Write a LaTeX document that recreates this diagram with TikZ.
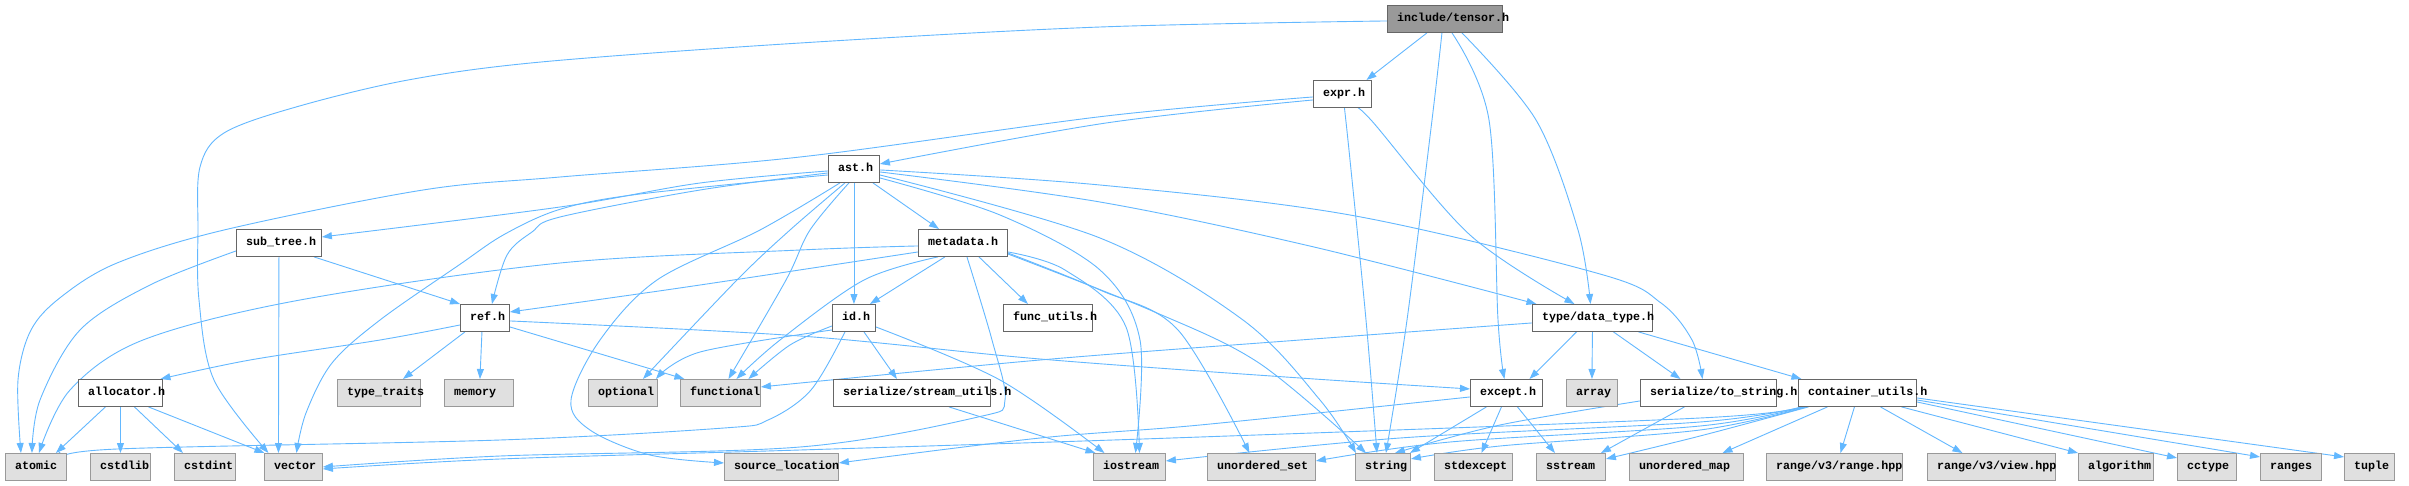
\documentclass[tikz,border=0pt]{standalone}
\usepackage{fontspec}
\setmonofont{Liberation Mono}
\usetikzlibrary{arrows.meta}
\definecolor{edgec}{HTML}{63B8FF}
\definecolor{boxd}{HTML}{666666}
\definecolor{sysfill}{HTML}{E0E0E0}
\definecolor{sysdraw}{HTML}{999999}
\definecolor{rootfill}{HTML}{999999}
\pgfdeclarelayer{bg}
\pgfsetlayers{bg,main}
\tikzset{
  filebox/.style={draw=boxd, fill=white, line width=0.9pt, inner sep=0pt, anchor=north west},
  sysbox/.style={draw=sysdraw, fill=sysfill, line width=0.9pt, inner sep=0pt, anchor=north west},
  rootbox/.style={draw=boxd, fill=rootfill, line width=0.9pt, inner sep=0pt, anchor=north west},
  lbl/.style={font=\ttfamily\bfseries\fontsize{11.67}{12}\selectfont, inner sep=0pt, anchor=mid west},
  edge/.style={draw=edgec, line width=0.9pt, -{Triangle[length=10pt,width=7pt]}},
  sm/.style={smooth, tension=0.55}
}
\newcommand\fnode[7]{%
  \node[#7, minimum width={(#4-#2)*1pt}, minimum height={(#5-#3)*1pt}] (#1) at (#2,#3) {};
  \node[lbl] (#1t) at ([xshift=10pt]#1.west) {#6};}
\begin{document}
\begin{tikzpicture}[x=1pt,y=-1pt]
\useasboundingbox (0,0) rectangle (2409,485);
% row 0-2
\fnode{T}{1387}{5}{1502}{32}{include/tensor.h}{rootbox}
\fnode{E}{1313}{80}{1371}{107}{expr.h}{filebox}
\fnode{A}{828}{155}{879}{182}{ast.h}{filebox}
% row 3
\fnode{ST}{236}{229}{321}{256}{sub\_tree.h}{filebox}
\fnode{M}{918}{229}{1007}{256}{metadata.h}{filebox}
% row 4
\fnode{R}{460}{304}{509}{331}{ref.h}{filebox}
\fnode{ID}{832}{304}{875}{331}{id.h}{filebox}
\fnode{FU}{1003}{304}{1092}{331}{func\_utils.h}{filebox}
\fnode{DT}{1532}{304}{1652}{331}{type/data\_type.h}{filebox}
% row 5
\fnode{AL}{78}{379}{162}{406}{allocator.h}{filebox}
\fnode{TT}{337}{379}{420}{406}{type\_traits}{sysbox}
\fnode{MEM}{444}{379}{513}{406}{memory}{sysbox}
\fnode{OPT}{588}{379}{657}{406}{optional}{sysbox}
\fnode{FN}{680}{379}{760}{406}{functional}{sysbox}
\fnode{SU}{833}{379}{990}{406}{serialize/stream\_utils.h}{filebox}
\fnode{EX}{1470}{379}{1542}{406}{except.h}{filebox}
\fnode{ARR}{1566}{379}{1617}{406}{array}{sysbox}
\fnode{TS}{1640}{379}{1776}{406}{serialize/to\_string.h}{filebox}
\fnode{CU}{1798}{379}{1916}{406}{container\_utils.h}{filebox}
% row 6
\fnode{atomic}{5}{453}{66}{480}{atomic}{sysbox}
\fnode{cstdlib}{90}{453}{150}{480}{cstdlib}{sysbox}
\fnode{cstdint}{174}{453}{235}{480}{cstdint}{sysbox}
\fnode{vector}{264}{453}{322}{480}{vector}{sysbox}
\fnode{srcloc}{724}{453}{838}{480}{source\_location}{sysbox}
\fnode{iostream}{1093}{453}{1165}{480}{iostream}{sysbox}
\fnode{uset}{1207}{453}{1315}{480}{unordered\_set}{sysbox}
\fnode{string}{1355}{453}{1410}{480}{string}{sysbox}
\fnode{stdexcept}{1434}{453}{1512}{480}{stdexcept}{sysbox}
\fnode{sstream}{1536}{453}{1605}{480}{sstream}{sysbox}
\fnode{umap}{1629}{453}{1743}{480}{unordered\_map}{sysbox}
\fnode{rangehpp}{1766}{453}{1902}{480}{range/v3/range.hpp}{sysbox}
\fnode{viewhpp}{1927}{453}{2055}{480}{range/v3/view.hpp}{sysbox}
\fnode{algorithm}{2078}{453}{2153}{480}{algorithm}{sysbox}
\fnode{cctype}{2177}{453}{2236}{480}{cctype}{sysbox}
\fnode{ranges}{2260}{453}{2321}{480}{ranges}{sysbox}
\fnode{tuple}{2344}{453}{2394}{480}{tuple}{sysbox}

\begin{pgfonlayer}{bg}
\fill[white] (0,0) rectangle (2409,485);
% tensor.h
\draw[edge] ([xshift=-18]T.south) -- ([xshift=24]E.north);
\draw[edge] plot[sm] coordinates {([yshift=-2]T.west) (1100,27) (800,43) (541,62) (408,80) (296,107) (224,133) (200,167) (198,230) (199,300) (214,380) ([xshift=-25]vector.north)};
\draw[edge] plot[sm] coordinates {([xshift=-3]T.south) (1432,120) (1407,320) ([xshift=3]string.north)};
\draw[edge] plot[sm] coordinates {([xshift=7]T.south) (1489,120) (1498,320) ([xshift=-2]EX.north)};
\draw[edge] plot[sm] coordinates {([xshift=17]T.south) (1536,120) (1578,230) ([xshift=-2]DT.north)};
% expr.h
\draw[edge] plot[sm] coordinates {([yshift=-6]E.west) (1106,123) ([yshift=5]A.east)};
\draw[edge] plot[sm] coordinates {([yshift=-3]E.west) (1106,116) (800,157) (560,177) (423,190) (224,230) (117,263) (61,297) (31,330) (18,380) ([xshift=-15]atomic.north)};
\draw[edge] plot[sm] coordinates {([xshift=2]E.south) (1350,160) (1366,320) ([xshift=-6]string.north)};
\draw[edge] plot[sm] coordinates {([xshift=12]E.south) (1371,120) (1470,235) ([xshift=-18]DT.north)};
% ast.h
\draw[edge] plot[sm] coordinates {([yshift=-2]A.west) (700,183) (560,207) ([yshift=6]ST.east)};
\draw[edge] plot[sm] coordinates {([yshift=-4]A.west) (700,190) (560,217) (532,232) (507,255) ([xshift=7]R.north)};
\draw[edge] plot[sm] coordinates {([yshift=-6]A.west) (640,194) (561,209) (505,234) (459,265) (380,320) (332,363) (306,413) ([xshift=3]vector.north)};
\draw[edge] ([xshift=19]A.south) -- ([xshift=-24]M.north);
\draw[edge] (A.south) -- (ID.north);
\draw[edge] plot[sm] coordinates {([xshift=-14]A.south) (760,230) (657,280) (600,340) (571,400) (590,430) (650,455) ([yshift=4]srcloc.west)};
\draw[edge] plot[sm] coordinates {([xshift=-9]A.south) (790,230) (737,280) ([xshift=20]OPT.north)};
\draw[edge] plot[sm] coordinates {([xshift=-5]A.south) (810,230) (786,280) ([xshift=8]FN.north)};
\draw[edge] plot[sm] coordinates {([yshift=-1]A.east) (1100,185) (1350,215) (1600,274) (1661,303) (1692,340) ([xshift=-6]TS.north)};
\draw[edge] plot[sm] coordinates {([yshift=-3]A.east) (1100,202) (1314,247) ([xshift=-56]DT.north)};
\draw[edge] plot[sm] coordinates {([yshift=-6]A.east) (1100,238) (1243,320) (1320,400) ([xshift=-27]string.north)};
\draw[edge] plot[sm] coordinates {([yshift=-9]A.east) (1000,215) (1100,270) (1140,340) ([xshift=6]iostream.north)};
% sub_tree.h
\draw[edge] ([xshift=35]ST.south) -- (R.north west);
\draw[edge] plot[sm] coordinates {([yshift=-8]ST.west) (150,285) (80,330) (40,400) ([xshift=-4]atomic.north)};
\draw[edge] (ST.south) -- ([xshift=-15]vector.north);
% metadata.h
\draw[edge] plot[sm] coordinates {([yshift=-3]M.west) (800,250) (560,263) (300,300) (143,340) (70,390) ([xshift=3]atomic.north)};
\draw[edge] plot[sm] coordinates {([yshift=-9]M.west) (700,285) (560,305) ([yshift=6]R.east)};
\draw[edge] ([xshift=-18]M.south) -- ([xshift=16]ID.north);
\draw[edge] ([xshift=16]M.south) -- ([xshift=-20]FU.north);
\draw[edge] plot[sm] coordinates {([xshift=-25]M.south) (864,280) (780,340) ([xshift=16]FN.north)};
\draw[edge] plot[sm] coordinates {([yshift=-9]M.east) (1065,270) (1126,327) ([xshift=10]iostream.north)};
\draw[edge] plot[sm] coordinates {([yshift=-10]M.east) (1100,290) (1178,330) ([xshift=-12]uset.north)};
\draw[edge] plot[sm] coordinates {([yshift=-11]M.east) (1150,310) (1259,363) ([xshift=-17]string.north)};
\draw[edge] plot[sm] coordinates {([xshift=4]M.south) (992,340) (1005,400) (978,417) (800,447) (500,456) (vector.east)};
% ref.h
\draw[edge] plot[sm] coordinates {([yshift=-7]R.west) (380,340) (250,360) ([xshift=40]AL.north)};
\draw[edge] ([xshift=-20]R.south) -- ([xshift=24]TT.north);
\draw[edge] ([xshift=-3]R.south) -- ([xshift=1]MEM.north);
\draw[edge] ([yshift=-9]R.east) -- ([xshift=-36]FN.north);
\draw[edge] plot[sm] coordinates {([yshift=-3]R.east) (800,336) (1040,359) (1300,378) ([yshift=4]EX.west)};
% id.h
\draw[edge] plot[sm] coordinates {([yshift=-8]ID.west) (790,345) ([xshift=28]FN.north)};
\draw[edge] plot[sm] coordinates {([yshift=-12]ID.west) (700,352) ([xshift=33]OPT.north)};
\draw[edge] ([xshift=10]ID.south) -- ([xshift=-15]SU.north);
\draw[edge] plot[sm] coordinates {([yshift=-9]ID.east) (1000,380) ([xshift=-25]iostream.north)};
\draw[edge] plot[sm] coordinates {([xshift=-9]ID.south) (811,390) (768,420) (724,428) (500,440) (117,449) ([yshift=8]atomic.east)};
% stream_utils
\draw[edge] ([xshift=37]SU.south) -- ([xshift=-34]iostream.north);
% allocator
\draw[edge] ([xshift=-15]AL.south) -- ([xshift=20]atomic.north);
\draw[edge] (AL.south) -- (cstdlib.north);
\draw[edge] ([xshift=14]AL.south) -- ([xshift=-22]cstdint.north);
\draw[edge] ([xshift=28]AL.south) -- ([xshift=-29]vector.north);
% data_type
\draw[edge] plot[sm] coordinates {([yshift=-5]DT.west) (1300,340) (1040,360) ([yshift=6]FN.east)};
\draw[edge] ([xshift=-16]DT.south) -- ([xshift=23]EX.north);
\draw[edge] (DT.south) -- (ARR.north);
\draw[edge] ([xshift=21]DT.south) -- ([xshift=-28]TS.north);
\draw[edge] ([xshift=46]DT.south) -- ([xshift=-56]CU.north);
% except
\draw[edge] plot[sm] coordinates {([yshift=-4]EX.west) (1200,425) (1040,438) ([yshift=4]srcloc.east)};
\draw[edge] ([xshift=-20]EX.south) -- ([xshift=27]string.north);
\draw[edge] ([xshift=-5]EX.south) -- ([xshift=8]stdexcept.north);
\draw[edge] ([xshift=11]EX.south) -- ([xshift=-16]sstream.north);
% to_string
\draw[edge] ([xshift=-24]TS.south) -- ([xshift=30]sstream.north);
\draw[edge] plot[sm] coordinates {([yshift=-8]TS.west) (1500,425) ([xshift=12]string.north)};
% container_utils
\draw[edge] plot[sm] coordinates {([xshift=-57]CU.south) (1700,418) (1200,437) (800,450) (500,459) ([yshift=-2]vector.east)};
\draw[edge] plot[sm] coordinates {([xshift=-55]CU.south) (1700,422) (1400,438) ([yshift=6]iostream.east)};
\draw[edge] plot[sm] coordinates {([xshift=-53]CU.south) (1700,426) (1450,442) ([yshift=6]uset.east)};
\draw[edge] plot[sm] coordinates {([xshift=-51]CU.south) (1700,430) (1500,446) ([yshift=8]string.east)};
\draw[edge] plot[sm] coordinates {([xshift=-49]CU.south) (1700,436) ([yshift=8]sstream.east)};
\draw[edge] ([xshift=-30]CU.south) -- ([xshift=36]umap.north);
\draw[edge] ([xshift=-3]CU.south) -- ([xshift=6]rangehpp.north);
\draw[edge] ([xshift=23]CU.south) -- ([xshift=-29]viewhpp.north);
\draw[edge] ([xshift=44]CU.south) -- (algorithm.north west);
\draw[edge] ([yshift=-9]CU.east) -- ([yshift=9]cctype.west);
\draw[edge] ([yshift=-7]CU.east) -- ([yshift=10]ranges.west);
\draw[edge] ([yshift=-5]CU.east) -- ([yshift=10]tuple.west);
\end{pgfonlayer}
\end{tikzpicture}
\end{document}
